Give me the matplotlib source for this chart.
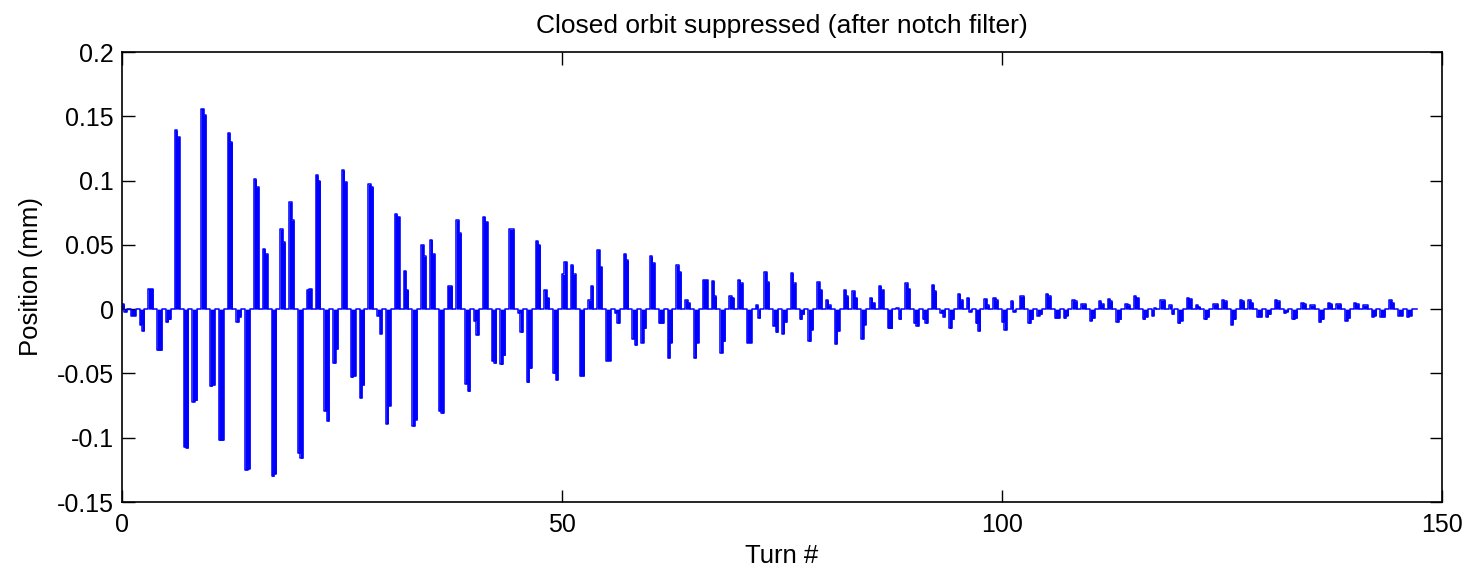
import numpy as np
import matplotlib
matplotlib.use("Agg")
import matplotlib.pyplot as plt

plt.rcParams['font.family'] = ['Liberation Sans', 'DejaVu Sans']

# Turn index of each pulse, and the two levels read inside each pulse (mm)
turns = list(range(147))
level_a = [
    0.004, -0.005, -0.012, 0.016, -0.032, -0.010, 0.139, -0.107, -0.072, 0.156,
    -0.060, -0.102, 0.137, -0.010, -0.125, 0.101, 0.047, -0.130, 0.062, 0.083,
    -0.112, 0.015, 0.104, -0.079, -0.042, 0.108, -0.053, -0.069, 0.097, -0.005,
    -0.089, 0.074, 0.030, -0.091, 0.050, 0.054, -0.079, 0.018, 0.069, -0.058,
    -0.009, 0.072, -0.040, -0.043, 0.062, -0.003, -0.057, 0.053, 0.015, -0.050,
    0.027, 0.034, -0.052, 0.007, 0.046, -0.040, -0.003, 0.043, -0.023, -0.026,
    0.041, -0.011, -0.038, 0.034, 0.007, -0.038, 0.023, 0.022, -0.034, 0.010,
    0.023, -0.026, 0.003, 0.029, -0.013, -0.019, 0.028, -0.008, -0.025, 0.021,
    0.007, -0.027, 0.015, 0.014, -0.023, 0.009, 0.018, -0.015, 0.001, 0.020,
    -0.011, -0.008, 0.019, -0.003, -0.015, 0.012, 0.009, -0.011, 0.008, 0.009,
    -0.010, 0.006, 0.010, -0.011, -0.005, 0.012, -0.007, -0.007, 0.007, 0.004,
    -0.009, 0.006, 0.008, -0.010, 0.004, 0.010, -0.008, -0.005, 0.007, 0.003,
    -0.011, 0.009, 0.003, -0.008, 0.004, 0.007, -0.012, 0.007, 0.007, -0.006,
    -0.006, 0.007, -0.003, -0.008, 0.005, 0.003, -0.010, 0.005, 0.004, -0.009,
    0.005, 0.003, -0.006, -0.006, 0.007, -0.005, -0.006,
]
level_b = [
    -0.002, -0.005, -0.017, 0.016, -0.032, -0.008, 0.134, -0.108, -0.071, 0.151,
    -0.059, -0.102, 0.130, -0.006, -0.124, 0.095, 0.043, -0.128, 0.052, 0.069,
    -0.116, 0.016, 0.100, -0.087, -0.031, 0.099, -0.052, -0.059, 0.095, -0.019,
    -0.075, 0.072, 0.015, -0.086, 0.041, 0.043, -0.081, 0.018, 0.059, -0.064,
    -0.020, 0.068, -0.042, -0.036, 0.062, -0.018, -0.046, 0.050, 0.009, -0.055,
    0.037, 0.027, -0.052, 0.018, 0.033, -0.040, -0.011, 0.038, -0.028, -0.015,
    0.036, -0.011, -0.026, 0.029, 0.005, -0.026, 0.023, 0.010, -0.025, 0.009,
    0.020, -0.026, -0.007, 0.021, -0.018, -0.010, 0.020, -0.004, -0.016, 0.015,
    0.003, -0.017, 0.010, 0.009, -0.012, 0.005, 0.015, -0.015, -0.008, 0.016,
    -0.013, -0.011, 0.014, -0.006, -0.008, 0.007, -0.002, -0.017, 0.003, 0.007,
    -0.016, -0.002, 0.010, -0.008, -0.004, 0.010, -0.007, -0.005, 0.006, 0.004,
    -0.007, 0.004, 0.006, -0.008, 0.003, 0.009, -0.006, 0.001, 0.007, -0.004,
    -0.009, 0.008, 0.002, -0.006, 0.004, 0.006, -0.008, 0.006, 0.005, -0.006,
    -0.004, 0.006, -0.002, -0.007, 0.004, 0.003, -0.008, 0.004, 0.004, -0.007,
    0.004, 0.003, -0.005, -0.006, 0.005, -0.005, -0.005,
]
last_turn = 147.2

xticks = [0, 50, 100, 150]
yticks = [-0.15, -0.1, -0.05, 0, 0.05, 0.1, 0.15, 0.2]
yticklabels = ['-0.15', '-0.1', '-0.05', '0', '0.05', '0.1', '0.15', '0.2']

# build the sampled signal (zero between pulses)
w = 0.55
xs, ys = [], []
for t, a, b in zip(turns, level_a, level_b):
    xs += [t, t, t + w / 2, t + w / 2, t + w, t + w]
    ys += [0, a, a, b, b, 0]
xs.append(last_turn)
ys.append(0)
xs = np.array(xs, dtype=float)
ys = np.array(ys, dtype=float)

fig = plt.figure(figsize=(14.72, 5.69), dpi=100)
ax = fig.add_axes([122 / 1472, 1 - 502 / 569, (1442 - 122) / 1472, (502 - 52) / 569])

ax.fill_between(xs, ys, 0, color='#0000ff', linewidth=0)
ax.plot(xs, ys, color='#0000ff', linewidth=1.1)

ax.set_xlim(0, 150)
ax.set_ylim(-0.15, 0.2)
ax.set_xticks(xticks)
ax.set_xticklabels([str(x) for x in xticks])
ax.set_yticks(yticks)
ax.set_yticklabels(yticklabels)
ax.tick_params(direction='in', length=9, width=1.0, top=True, right=True,
               labelsize=18, colors='black')
ax.tick_params(axis='x', pad=8)
ax.tick_params(axis='y', pad=6)
for s in ax.spines.values():
    s.set_linewidth(1.2)

ax.set_title('Closed orbit suppressed (after notch filter)', fontsize=19, pad=14)
ax.set_xlabel('Turn #', fontsize=18.5, labelpad=5)
ax.set_ylabel('Position (mm)', fontsize=18.5, labelpad=10)

fig.savefig('out.png', dpi=100)
